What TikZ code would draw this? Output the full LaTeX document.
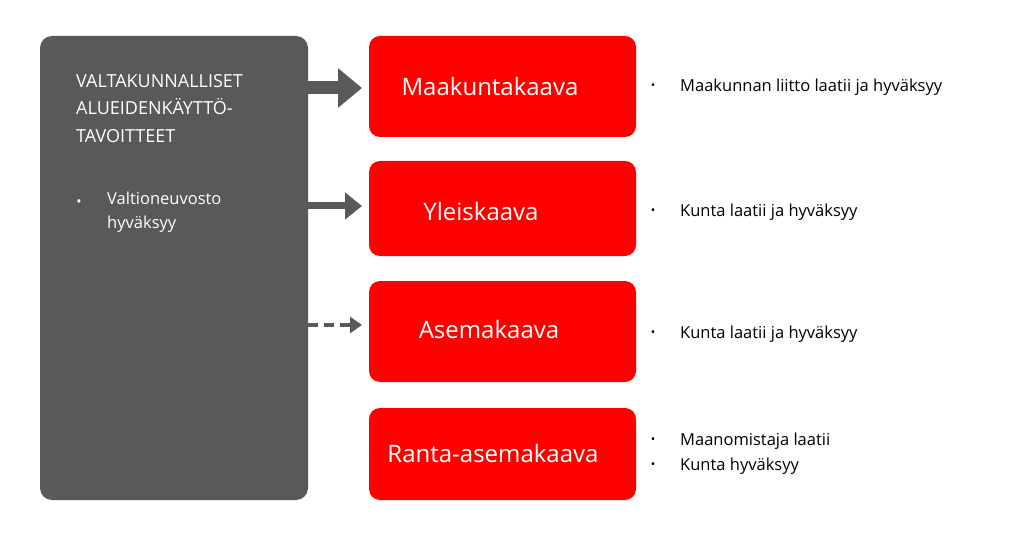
\documentclass[tikz,border=0pt]{standalone}
\usepackage{fontspec}
\setmainfont{Open Sans}
\usetikzlibrary{arrows.meta}
\definecolor{dg}{HTML}{595959}
\definecolor{rd}{HTML}{FF0000}
\begin{document}
\begin{tikzpicture}[x=1pt,y=-1pt,
  redbox/.style={fill=rd,rounded corners=11pt,minimum width=267pt,inner sep=0pt},
  bt/.style={font=\fontsize{24}{28}\selectfont,text=white,anchor=center},
  rt/.style={font=\fontsize{16.5}{20}\selectfont,anchor=west,inner sep=0pt},
  arr/.style={draw=dg,shorten >=7pt}]
\useasboundingbox (0,0) rectangle (1024,537);
\node[fill=dg,rounded corners=12pt,minimum width=268pt,minimum height=464pt,inner sep=0pt] (g) at (174,268) {};
\node[redbox,minimum height=101pt] (m) at (502.5,86.5) {};
\node[redbox,minimum height=95pt] (y) at (502.5,208.5) {};
\node[redbox,minimum height=101pt] (a) at (502.5,331.5) {};
\node[redbox,minimum height=92pt] (r) at (502.5,454) {};
\node[bt] (mt) at (490,87) {Maakuntakaava};
\node[bt] (yt) at (481,212) {Yleiskaava};
\node[bt] (at) at (489,329) {Asemakaava};
\node[bt] (rtx) at (493,453) {Ranta-asemakaava};
\node[font=\fontsize{18}{27.5}\selectfont,text=white,anchor=north west,align=left,inner sep=0pt] (gt) at (76,74) {VALTAKUNNALLISET\\ALUEIDENKÄYTTÖ-\\TAVOITTEET};
\node[font=\fontsize{16.5}{24}\selectfont,text=white,anchor=north west,align=left,inner sep=0pt] (gb) at (107,192) {Valtioneuvosto\\hyväksyy};
\node[font=\fontsize{14}{16}\selectfont,text=white,inner sep=0pt] (gd) at (79,203) {•};
\coordinate (m1) at (308,88); \coordinate (m2) at (369,88);
\coordinate (y1) at (308,206); \coordinate (y2) at (369,206);
\coordinate (a1) at (308,325); \coordinate (a2) at (369,325);
\draw[arr,line width=13pt,-{Triangle[length=24pt,width=38pt]}] (m1) -- (m2);
\draw[arr,line width=7pt,-{Triangle[length=17pt,width=26pt]}] (y1) -- (y2);
\draw[arr,line width=4pt,dash pattern=on 10pt off 6pt,-{Triangle[length=12pt,width=16pt]}] (a1) -- (a2);
\foreach \yy/\tt/\nm in {87/Maakunnan liitto laatii ja hyväksyy/t1,212/Kunta laatii ja hyväksyy/t2,334/Kunta laatii ja hyväksyy/t3,441/Maanomistaja laatii/t4,466/Kunta hyväksyy/t5}{
  \node[rt] (\nm) at (680,\yy) {\tt};
  \node[font=\fontsize{12}{14}\selectfont,inner sep=0pt] (\nm d) at (653,\yy) {•};
}
\end{tikzpicture}
\end{document}
